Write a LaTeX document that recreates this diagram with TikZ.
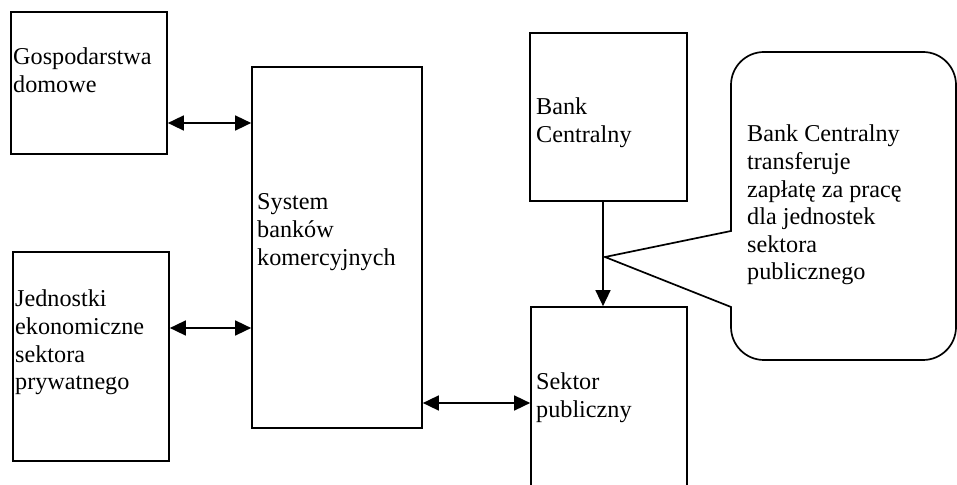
\documentclass[tikz,border=0pt]{standalone}
\usepackage{fontspec}
\setmainfont{Liberation Serif}
\usetikzlibrary{arrows.meta}
\begin{document}
\begin{tikzpicture}[x=1pt,y=1pt,
  box/.style={draw=black, line width=1.7pt, rectangle, inner sep=0pt},
  txt/.style={anchor=base west, inner sep=0pt, font=\fontsize{24.2}{27.6}\selectfont},
  arr/.style={line width=1.6pt, {Triangle[length=16pt,width=15pt]}-{Triangle[length=16pt,width=15pt]}},
  sarr/.style={line width=1.6pt, -{Triangle[length=16pt,width=15pt]}},
  call/.style={draw=black, line width=1.7pt, line join=miter}]
\useasboundingbox (0,0) rectangle (957,484);
\clip (0,0) rectangle (957,484);
% boxes
\node[box, minimum width=156pt, minimum height=142pt] (G) at (89,401) {};
\node[box, minimum width=156pt, minimum height=209pt] (J) at (91,127.5) {};
\node[box, minimum width=170pt, minimum height=361pt] (S) at (337,236.5) {};
\node[box, minimum width=157pt, minimum height=168pt] (BC) at (608.5,367) {};
\node[box, minimum width=156pt, minimum height=200pt] (SP) at (609,77) {};
% texts
\node[txt] (tG) at (13,419) {\vtop{\hbox{Gospodarstwa}\hbox{domowe}}};
\node[txt] (tJ) at (15,177) {\vtop{\hbox{Jednostki}\hbox{ekonomiczne}\hbox{sektora}\hbox{prywatnego}}};
\node[txt] (tS) at (257,274) {\vtop{\hbox{System}\hbox{banków}\hbox{komercyjnych}}};
\node[txt] (tBC) at (536,369) {\vtop{\hbox{Bank}\hbox{Centralny}}};
\node[txt] (tSP) at (536,94) {\vtop{\hbox{Sektor}\hbox{publiczny}}};
\node[txt] (tC) at (747,342) {\vtop{\hbox{Bank Centralny}\hbox{transferuje}\hbox{zapłatę za pracę}\hbox{dla jednostek}\hbox{sektora}\hbox{publicznego}}};
% connectors
\coordinate (a1) at (0,361);
\coordinate (a2) at (0,156);
\coordinate (a3) at (0,81);
\coordinate (a4) at (603,0);
\draw[arr] (G.east |- a1) -- (S.west |- a1);
\draw[arr] (J.east |- a2) -- (S.west |- a2);
\draw[arr] (S.east |- a3) -- (SP.west |- a3);
\draw[sarr] (BC.south -| a4) -- (SP.north -| a4);
% callout
\coordinate (tip) at (605,227);
\draw[call] (731,253) -- (731,399) arc[start angle=180, end angle=90, radius=33]
  -- (923,432) arc[start angle=90, end angle=0, radius=33]
  -- (956,157) arc[start angle=0, end angle=-90, radius=33]
  -- (764,124) arc[start angle=270, end angle=180, radius=33]
  -- (731,177) -- (tip) -- cycle;
\end{tikzpicture}
\end{document}
